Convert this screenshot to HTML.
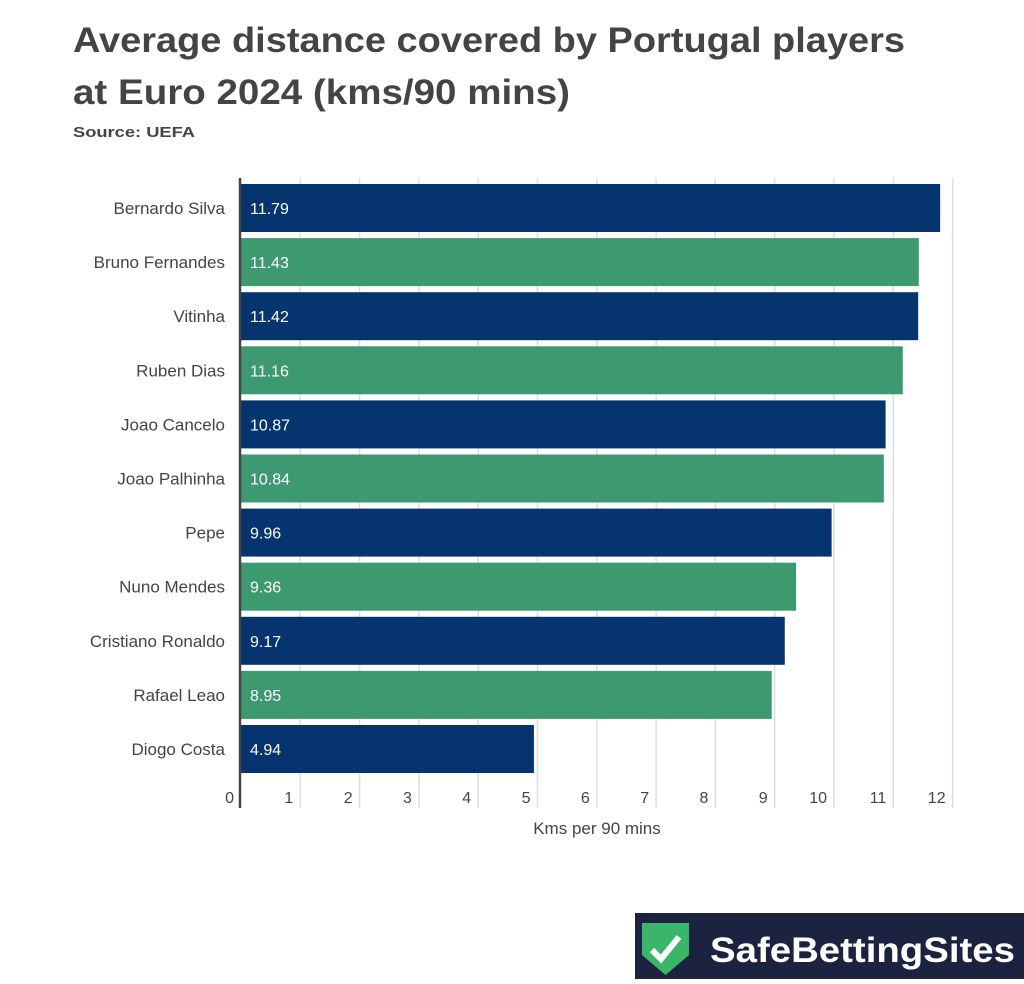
<!DOCTYPE html>
<html><head><meta charset="utf-8"><style>
body{margin:0;background:#fff;width:1024px;height:979px;overflow:hidden;font-family:"Liberation Sans",sans-serif}
</style></head><body>
<svg width="1024" height="979" xmlns="http://www.w3.org/2000/svg">
<text x="73" y="52" font-size="35" font-weight="bold" fill="#444" textLength="832" lengthAdjust="spacingAndGlyphs">Average distance covered by Portugal players</text>
<text x="73" y="104" font-size="35" font-weight="bold" fill="#444" textLength="497" lengthAdjust="spacingAndGlyphs">at Euro 2024 (kms/90 mins)</text>
<text x="73" y="137" font-size="15" font-weight="bold" fill="#444" textLength="122" lengthAdjust="spacingAndGlyphs">Source: UEFA</text>
<g id="grid"></g><g id="bars"></g><g id="labels"></g>
<line x1="240" y1="178" x2="240" y2="808" stroke="#444" stroke-width="2.5"/>
<text x="597" y="834" font-size="17" fill="#444" text-anchor="middle">Kms per 90 mins</text>
<g>
<rect x="635" y="913" width="389" height="66" fill="#1b2340"/>
<path d="M642 923 H689 V955 L665.5 975 L642 955 Z" fill="#3bb56a"/>
<path d="M652 950 L661 959 L679 937" stroke="#fff" stroke-width="6" fill="none"/>
<text x="710" y="962" font-size="35" font-weight="bold" fill="#fff" textLength="305" lengthAdjust="spacingAndGlyphs">SafeBettingSites</text>
</g>
</svg>
<script>
const players=["Bernardo Silva","Bruno Fernandes","Vitinha","Ruben Dias","Joao Cancelo","Joao Palhinha","Pepe","Nuno Mendes","Cristiano Ronaldo","Rafael Leao","Diogo Costa"];
const values=[11.79,11.43,11.42,11.16,10.87,10.84,9.96,9.36,9.17,8.95,4.94];
const ticks=[0,1,2,3,4,5,6,7,8,9,10,11,12];
const NS="http://www.w3.org/2000/svg";
const x=v=>241+v*59.3;
const yTop=i=>184+i*54.1;
const BH=48;
function mk(t,a,p){const e=document.createElementNS(NS,t);for(const k in a)e.setAttribute(k,a[k]);p.appendChild(e);return e;}
const g=document.getElementById('grid'),b=document.getElementById('bars'),l=document.getElementById('labels');
ticks.forEach(t=>{
 if(t>0){const ln=mk('line',{x1:x(t),x2:x(t),y1:178,y2:808,stroke:'#ddd','stroke-width':1.5},g);
 
 }
 const tx=mk('text',{x:x(t)-7,y:803,'font-size':16,fill:'#444','text-anchor':'end'},g);
 tx.textContent=t;
 
 
});
players.forEach((p,i)=>{
 const r=mk('rect',{x:241,y:yTop(i),width:x(values[i])-241,height:BH,fill:i%2?'#3d9970':'#06346e'},b);
 
 
 const v=mk('text',{x:250,y:yTop(i)+BH/2+6,'font-size':16,fill:'#fff'},l);
 v.textContent=values[i].toFixed(2);
 
 
 const n=mk('text',{x:225,y:yTop(i)+BH/2+6,'font-size':17,fill:'#444','text-anchor':'end'},l);
 n.textContent=p;
 
 
});
</script>
</body></html>
